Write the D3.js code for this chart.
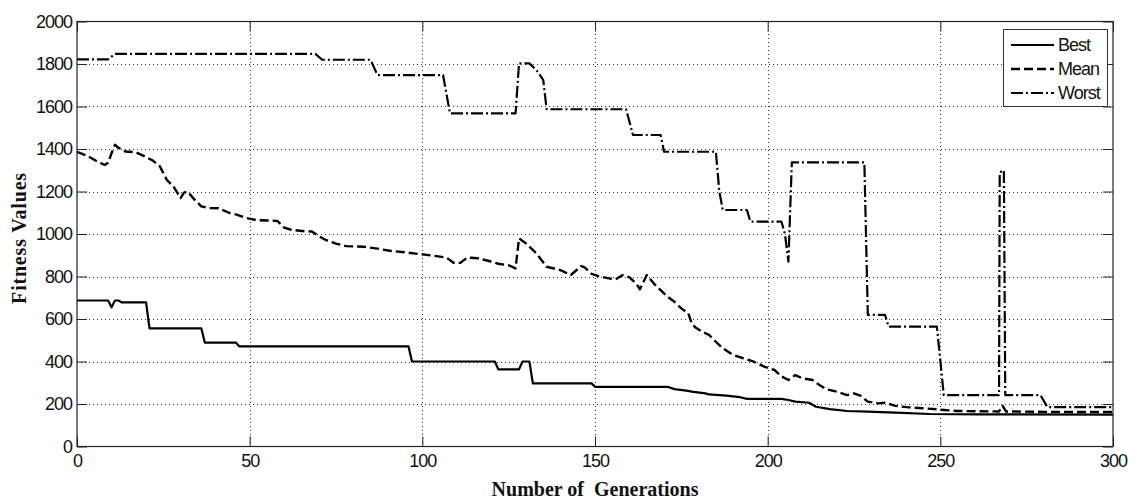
<!DOCTYPE html>
<html><head><meta charset="utf-8">
<script src="https://cdn.jsdelivr.net/npm/d3@7"></script>
<style>
body{margin:0;background:#fff;}
svg{display:block;}
.tick text{font-family:"Liberation Sans",Arial,sans-serif;font-size:18px;letter-spacing:-1px;fill:#111;}
</style></head>
<body><svg id="c" width="1140" height="500"></svg>
<script>
// ---- data (generation, fitness) ----
const bestData = [[0,687],[9,687],[10,655],[11,687],[12,687],[13,678],[20,678],[21,556],[36,556],[37,489],[46,489],[47,471],[96,471],[97,400],[121,400],[122,363],[128,363],[129,400],[131,400],[132,297],[149,297],[150,281],[171,281],[173,270],[177,262],[178,258],[182,250],[183,245],[188,239],[192,232],[194,224],[204,224],[206,219],[208,211],[212,206],[214,187],[218,176],[223,167],[229,164],[237,159],[247,153],[261,151],[300,150]];
const meanData = [[0,1387],[3,1368],[6,1340],[8,1325],[9,1335],[10,1380],[11,1420],[12,1405],[13,1400],[14,1388],[17,1385],[19,1370],[22,1345],[24,1318],[26,1255],[28,1222],[30,1170],[31,1195],[32,1200],[34,1162],[36,1130],[38,1122],[41,1121],[44,1100],[46,1092],[49,1075],[52,1065],[58,1062],[60,1030],[62,1020],[66,1013],[68,1012],[70,990],[72,972],[75,955],[78,943],[83,940],[87,931],[91,920],[95,914],[99,906],[103,898],[107,889],[109,865],[111,864],[113,889],[116,886],[119,874],[122,860],[125,853],[127,838],[128,980],[130,956],[133,909],[136,846],[140,830],[143,807],[146,849],[147,843],[149,812],[151,802],[154,791],[156,787],[158,807],[160,796],[162,765],[163,740],[165,807],[167,768],[169,736],[171,705],[173,681],[175,650],[177,627],[178,580],[179,561],[181,540],[183,525],[185,493],[187,462],[190,431],[193,415],[196,399],[199,376],[202,360],[204,330],[206,313],[208,336],[210,321],[213,313],[215,289],[217,269],[220,258],[223,242],[225,250],[227,238],[229,211],[232,203],[234,206],[237,191],[241,184],[245,180],[249,175],[251,172],[255,167],[260,166],[267,165],[268,192],[269,165],[280,163],[300,162]];
const worstData = [[0,1822],[9,1822],[10,1835],[11,1848],[69,1848],[71,1820],[85,1820],[87,1748],[106,1748],[108,1568],[127,1568],[128,1803],[131,1803],[133,1772],[135,1725],[136,1587],[159,1587],[161,1466],[169,1466],[170,1387],[185,1387],[186,1200],[187,1113],[194,1113],[195,1058],[204,1058],[205,1000],[206,870],[207,1337],[228,1337],[229,619],[234,619],[235,564],[249,564],[251,242],[267,242],[267.2,1290],[268.4,1300],[268.8,242],[279,242],[281,185],[300,185]];
const xTicks = [0,50,100,150,200,250,300];
const yTicks = [0,200,400,600,800,1000,1200,1400,1600,1800,2000];
const seriesNames = ["Best","Mean","Worst"];
const xLabel = "Number of  Generations";
const yLabel = "Fitness Values";

const svg = d3.select("#c");
const L=77,R=1113,T=21.5,B=446.5;
const x = d3.scaleLinear().domain([0,300]).range([L,R]);
const y = d3.scaleLinear().domain([0,2000]).range([B,T]);

// grid
const grid = svg.append("g").attr("stroke","#333").attr("stroke-width",1).attr("stroke-dasharray","1,3").attr("shape-rendering","crispEdges");
grid.selectAll(".gx").data(xTicks.slice(1,-1)).join("line")
  .attr("x1",d=>Math.round(x(d))+0.5).attr("x2",d=>Math.round(x(d))+0.5).attr("y1",T).attr("y2",B);
grid.selectAll(".gy").data(yTicks.slice(1,-1)).join("line")
  .attr("y1",d=>Math.round(y(d))+0.5).attr("y2",d=>Math.round(y(d))+0.5).attr("x1",L).attr("x2",R);

// axes
const axB = svg.append("g").attr("transform",`translate(0,${B})`)
  .call(d3.axisBottom(x).tickValues(xTicks).tickSize(-10).tickPadding(8).tickFormat(d3.format("d")));
const axT = svg.append("g").attr("transform",`translate(0,${T})`)
  .call(d3.axisTop(x).tickValues(xTicks).tickSize(-10).tickFormat(""));
const axL = svg.append("g").attr("transform",`translate(${L},0)`)
  .call(d3.axisLeft(y).tickValues(yTicks).tickSize(-10).tickPadding(5).tickFormat(d3.format("d")));
const axR = svg.append("g").attr("transform",`translate(${R},0)`)
  .call(d3.axisRight(y).tickValues(yTicks).tickSize(-10).tickFormat(""));
[axB,axT,axL,axR].forEach(a=>{a.select(".domain").remove();a.selectAll(".tick line").attr("stroke","#222");});
axB.selectAll(".tick text").attr("dy","0.71em");

// series
const line = d3.line().x(d=>x(d[0])).y(d=>y(d[1]));
const styles = [
  {data:bestData, dash:null, w:2.2},
  {data:meanData, dash:"9,4", w:2.4},
  {data:worstData, dash:"12,3,2,3", w:2.2}
];
styles.forEach(s=>{
  svg.append("path").datum(s.data).attr("d",line).attr("fill","none").attr("stroke","#000")
    .attr("stroke-width",s.w).attr("stroke-dasharray",s.dash).attr("stroke-linejoin","round");
});

// frame
svg.append("rect").attr("x",L).attr("y",T).attr("width",R-L).attr("height",B-T)
  .attr("fill","none").attr("stroke","#222").attr("stroke-width",1.2);

// legend
const lg = svg.append("g");
lg.append("rect").attr("x",1003.5).attr("y",29.5).attr("width",104).attr("height",77)
  .attr("fill","#fff").attr("stroke","#333").attr("stroke-width",1);
const rowsY=[45,69,93];
styles.forEach((s,i)=>{
  lg.append("line").attr("x1",1011).attr("x2",1054).attr("y1",rowsY[i]).attr("y2",rowsY[i])
    .attr("stroke","#000").attr("stroke-width",s.w).attr("stroke-dasharray",s.dash);
  lg.append("text").attr("x",1058).attr("y",rowsY[i]).attr("dy","0.35em")
    .attr("font-family","Liberation Sans, Arial, sans-serif").attr("font-size",18)
    .attr("letter-spacing","-1px").attr("fill","#111").text(seriesNames[i]);
});

// axis titles
svg.append("text").attr("x",(L+R)/2).attr("y",496).attr("text-anchor","middle")
  .style("white-space","pre").attr("xml:space","preserve")
  .attr("font-family","Liberation Serif, Times New Roman, serif").attr("font-weight","bold")
  .attr("font-size",20).attr("fill","#111").text(xLabel);
svg.append("text").attr("transform",`translate(26,238) rotate(-90)`).attr("text-anchor","middle")
  .attr("font-family","Liberation Serif, Times New Roman, serif").attr("font-weight","bold")
  .attr("letter-spacing","0.8px")
  .attr("font-size",20).attr("fill","#111").text(yLabel);
</script></body></html>
